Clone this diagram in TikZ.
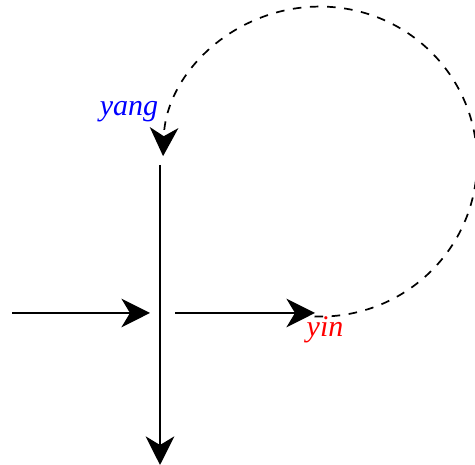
\documentclass[tikz,border=0pt]{standalone}
\usepackage{fontspec}
\setmainfont{Liberation Serif}
\usepackage{tikz}
\usetikzlibrary{positioning, arrows.meta}

\begin{document}
\begin{tikzpicture}[
    x=0.35pt, y=0.35pt,
    arr/.style={-{Stealth[length=10pt, width=10pt, inset=3pt]}, line width=0.7pt, color=black},
    lbl/.style={font=\fontsize{10.5}{12}\selectfont\itshape},
    every node/.style={inner sep=0pt}
]
\useasboundingbox (0,0) rectangle (475,465);

% Axis and inputs
\coordinate (top) at (160,300);
\coordinate (bottom) at (160,0);
\coordinate (in) at (12,152);
\coordinate (inend) at (150,152);
\coordinate (out) at (175,152);
\coordinate (yinpt) at (315,152);
\coordinate (loop) at (314.5,148.5);

\draw[arr] (top) -- (bottom);
\draw[arr] (in) -- (inend);
\draw[arr] (out) -- (yinpt);

% Labels
\node[lbl, text=red] (yin) at (325,135) {yin};
\node[lbl, text=blue] (yang) at (129,353) {yang};

% Feedback loop
\draw[arr, dashed, line width=0.6pt] (loop) arc[start angle=-92, end angle=178, x radius=157, y radius=155];

\end{tikzpicture}
\end{document}
